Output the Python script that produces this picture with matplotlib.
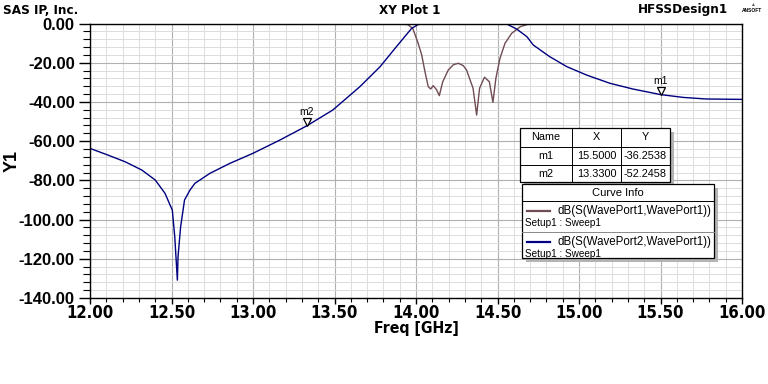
import os
import matplotlib
matplotlib.use('Agg')
import matplotlib.pyplot as plt
import matplotlib.transforms as mtransforms
from matplotlib.patches import Rectangle
from matplotlib import font_manager
from matplotlib.font_manager import FontProperties
import numpy as np

# --- data (freq in GHz, level in dB) ---
s21_freq = [12.00, 12.11, 12.215, 12.317, 12.40, 12.46, 12.505, 12.52, 12.536,
            12.54, 12.556, 12.58, 12.613, 12.644, 12.736, 12.859, 13.00, 13.166,
            13.33, 13.49, 13.656, 13.78, 13.88, 13.973, 14.02, 14.10, 14.20,
            14.30, 14.40, 14.50, 14.555, 14.617, 14.68, 14.72, 14.82, 14.925,
            15.047, 15.19, 15.33, 15.50, 15.64, 15.78, 16.00]
s21_db = [-63.7, -67.1, -70.5, -74.7, -79.8, -86.6, -95.2, -108.8, -130.9,
          -119.0, -103.7, -90.0, -85.0, -81.5, -76.4, -71.3, -66.2, -59.4,
          -52.2, -44.1, -32.2, -22.0, -11.8, -2.5, -0.2, -0.1, -0.1,
          -0.1, -0.1, -0.1, -0.2, -2.8, -6.7, -11.0, -16.9, -22.0,
          -26.3, -30.5, -33.4, -36.25, -37.7, -38.5, -38.7]

s11_freq = [12.00, 13.50, 13.90, 13.95, 13.98, 14.01, 14.035, 14.055, 14.075,
            14.09, 14.106, 14.127, 14.143, 14.164, 14.198, 14.23, 14.26, 14.29,
            14.31, 14.35, 14.372, 14.39, 14.42, 14.45, 14.472, 14.49, 14.515,
            14.546, 14.587, 14.64, 14.70, 15.00, 16.00]
s11_db = [-0.0, -0.0, -0.1, -0.6, -2.5, -9.3, -16.0, -24.6, -32.2,
          -33.4, -31.7, -33.9, -36.8, -29.7, -23.7, -21.0, -20.3, -21.5,
          -23.7, -33.0, -46.7, -33.0, -27.4, -29.7, -40.2, -28.0, -17.8,
          -10.1, -5.0, -1.6, -0.1, -0.0, -0.0]

marker_names = ['m1', 'm2']
marker_x = [15.5000, 13.3300]
marker_y = [-36.2538, -52.2458]

trace_labels = ['dB(S(WavePort1,WavePort1))', 'dB(S(WavePort2,WavePort1))']
trace_colors = ['#6e4c52', '#000080']

W, H = 768, 384

plt.rcParams['font.family'] = ['Liberation Sans', 'DejaVu Sans']


def narrow_bold():
    fl = font_manager.fontManager.ttflist
    for f in fl:
        if f.name == 'Liberation Sans Narrow' and f.weight in (700, 'bold') and f.style == 'normal':
            return f.fname
    for f in fl:
        if f.name == 'DejaVu Sans' and f.stretch == 'condensed' and f.weight in (700, 'bold') \
                and f.style == 'normal':
            return f.fname
    return None


nb_file = narrow_bold()


def nb(size):
    if nb_file:
        return FontProperties(fname=nb_file, size=size)
    return FontProperties(family='Liberation Sans', weight='bold', size=size * 0.85)


fig = plt.figure(figsize=(W / 100, H / 100), dpi=100)
fig.patch.set_facecolor('white')


def fx(px):
    return px / W


def fy(py):
    return 1 - py / H


ax = fig.add_axes([fx(90), fy(298), fx(742) - fx(90), fy(23.5) - fy(298)])
ax.set_xlim(12.0, 16.0)
ax.set_ylim(-140, 0)

xt = np.arange(12.0, 16.01, 0.5)
yt = np.arange(-140, 1, 20)
ax.set_xticks(xt)
ax.set_xticks(np.arange(12.0, 16.01, 0.1), minor=True)
ax.set_yticks(yt)
ax.set_yticks(np.arange(-140, 1, 4), minor=True)
ax.set_xticklabels([f'{v:.2f}' for v in xt])
ax.set_yticklabels([f'{v:.2f}' for v in yt])

ax.grid(which='minor', color='#dcdcdc', linewidth=0.7)
ax.grid(which='major', color='#b0b0b0', linewidth=0.8)
ax.set_axisbelow(True)

ax.tick_params(axis='y', which='major', direction='out', length=8, width=1, pad=3)
ax.tick_params(axis='y', which='minor', direction='out', length=5, width=0.8)
ax.tick_params(axis='x', which='major', direction='out', length=4, width=1, pad=0)
ax.tick_params(axis='x', which='minor', direction='out', length=3, width=0.8)
for lab in ax.get_yticklabels():
    lab.set_fontsize(12)
    lab.set_fontweight('bold')
for lab in ax.get_xticklabels():
    lab.set_fontproperties(nb(12))

for sp in ax.spines.values():
    sp.set_color('black')
    sp.set_linewidth(1.0)

ax.plot(s11_freq, s11_db, color=trace_colors[0], linewidth=1.0)
ax.plot(s21_freq, s21_db, color=trace_colors[1], linewidth=1.0)

fig.text(fx(416), fy(328), 'Freq [GHz]', fontproperties=nb(11.3), ha='center', va='center')
fig.text(fx(12), fy(161), 'Y1', fontsize=13, fontweight='bold', rotation=90,
         ha='center', va='center')

# markers
tri_off = mtransforms.offset_copy(ax.transData, fig=fig, x=0, y=4, units='dots')
lab_off = mtransforms.offset_copy(ax.transData, fig=fig, x=0, y=9, units='dots')
for name, mx, my in zip(marker_names, marker_x, marker_y):
    ax.plot(mx, my, marker='v', markersize=6, markerfacecolor='white',
            markeredgecolor='black', markeredgewidth=0.9, transform=tri_off)
    ax.text(mx, my, name, transform=lab_off, ha='center', va='bottom', fontsize=7.5)

# header texts
fig.text(fx(3), fy(10), 'SAS IP, Inc.', fontproperties=nb(9.6), ha='left', va='center')
fig.text(fx(410), fy(10), 'XY Plot 1', fontproperties=nb(9.6), ha='center', va='center')
fig.text(fx(728), fy(10), 'HFSSDesign1', fontproperties=nb(9.6), ha='right', va='center')
fig.text(fx(752), fy(11), 'ANSOFT', fontsize=3.5, fontweight='bold', ha='center', va='center')
fig.text(fx(752), fy(5), '\u25b2', fontsize=3.5, color='#555555', ha='center', va='center')


def box(x0, y0, x1, y1, shadow=4):
    fig.patches.append(Rectangle((fx(x0 + shadow), fy(y1 + shadow)), fx(x1 - x0), fy(y0) - fy(y1),
                                 transform=fig.transFigure, facecolor='#b4b4b4',
                                 edgecolor='none', zorder=5))
    fig.patches.append(Rectangle((fx(x0), fy(y1)), fx(x1 - x0), fy(y0) - fy(y1),
                                 transform=fig.transFigure, facecolor='white',
                                 edgecolor='black', linewidth=0.9, zorder=6))


def hline(x0, x1, y, color='black', lw=0.7):
    fig.lines.append(plt.Line2D([fx(x0), fx(x1)], [fy(y), fy(y)], transform=fig.transFigure,
                                color=color, linewidth=lw, zorder=7))


def vline(x, y0, y1):
    fig.lines.append(plt.Line2D([fx(x), fx(x)], [fy(y0), fy(y1)], transform=fig.transFigure,
                                color='black', linewidth=0.7, zorder=7))


# marker table
box(520, 128, 670, 182)
hline(520, 670, 146.5)
hline(520, 670, 164.5)
vline(572, 128, 182)
vline(621, 128, 182)
cols = [546, 596.5, 645.5]
tkw = dict(fontsize=7.8, ha='center', va='center', zorder=8)
fig.text(fx(cols[0]), fy(137), 'Name', **tkw)
fig.text(fx(cols[1]), fy(137), 'X', **tkw)
fig.text(fx(cols[2]), fy(137), 'Y', **tkw)
for i, (name, mx, my) in enumerate(zip(marker_names, marker_x, marker_y)):
    yy = 155.5 + 18 * i
    fig.text(fx(cols[0]), fy(yy), name, **tkw)
    fig.text(fx(cols[1]), fy(yy), f'{mx:.4f}', **tkw)
    fig.text(fx(cols[2]), fy(yy), f'{my:.4f}', **tkw)

# curve info legend
box(522, 184, 714, 258, shadow=4)
hline(522, 714, 201)
hline(522, 714, 232, color='#888888')
fig.text(fx(618), fy(192.5), 'Curve Info', fontsize=8, ha='center', va='center', zorder=8)
for i, (lab, col) in enumerate(zip(trace_labels, trace_colors)):
    y_line = 211 + 31 * i
    hline(527, 550, y_line, color=col, lw=1.6)
    fig.text(fx(558), fy(y_line), lab, fontsize=8.3, ha='left', va='center', zorder=8)
    fig.text(fx(525), fy(y_line + 12), 'Setup1 : Sweep1', fontsize=7.2, ha='left',
             va='center', zorder=8)

fig.savefig('out.png', dpi=100, facecolor='white')
